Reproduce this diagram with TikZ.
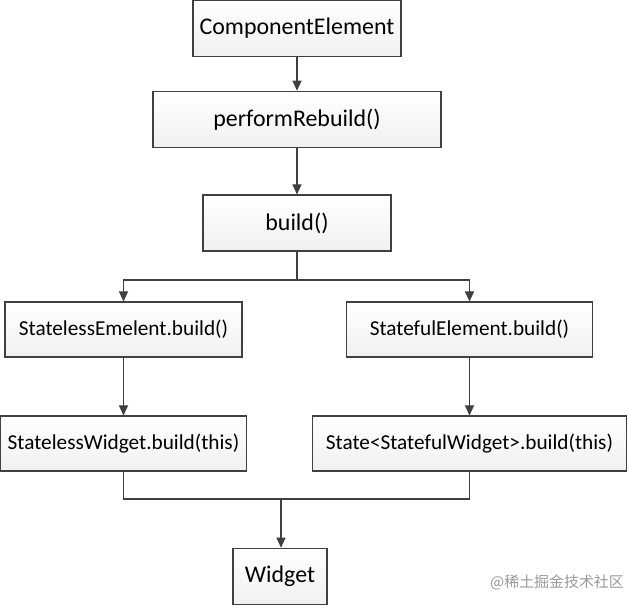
\documentclass[tikz,border=0pt]{standalone}
\usepackage{fontspec}
\setmainfont{Carlito}
\newfontfamily\cjkfont{Noto Sans CJK SC}
\usetikzlibrary{
  calc,
  positioning,
  arrows.meta
}

\begin{document}
\begin{tikzpicture}[
  box/.style={draw=black!75,line width=0.6pt,top color=white,bottom color=black!6,
    minimum height=1.13cm,inner sep=0pt,font=\fontsize{13.6}{16}\selectfont},
  midbox/.style={box,minimum height=1.1cm,font=\fontsize{12.1}{14}\selectfont},
  link/.style={draw=black!75,line width=0.6pt},
  arr/.style={link,-{Triangle[length=0.2cm,width=0.18cm]}}
]
  \useasboundingbox (-5.94, 0) rectangle (6.64, -12.16);

  \node[box,minimum width=4.16cm] at (0, -0.57) (Component) {ComponentElement};
  \node[box,minimum width=5.76cm] at (0, -2.39) (Rebuild) {performRebuild()};
  \node[box,minimum width=3.76cm,minimum height=1.12cm] at (0, -4.46) (Build) {build()};
  \node[midbox,minimum width=4.74cm] at (-3.47, -6.59) (StatelessElem) {StatelessEmelent.build()};
  \node[midbox,minimum width=4.92cm] at (3.45, -6.59) (StatefulElem) {StatefulElement.build()};
  \node[midbox,minimum width=4.92cm] at (-3.47, -8.87) (StatelessWgt) {StatelessWidget.build(this)};
  \node[midbox,minimum width=6.28cm] at (3.45, -8.87) (StateBuild) {State<StatefulWidget>.build(this)};
  \node[box,minimum width=1.88cm] at (-0.34, -11.53) (Widget) {Widget};

  \coordinate (Split) at (0, -5.60);
  \coordinate (Merge) at (-0.32, -9.98);

  \draw[arr] (Component.south) -- (Rebuild.north);
  \draw[arr] (Rebuild.south) -- (Build.north);
  \draw[link] (Build.south) -- (Split);
  \draw[arr] (Split) -| (StatelessElem.north);
  \draw[arr] (Split) -| (StatefulElem.north);
  \draw[arr] (StatelessElem.south) -- (StatelessWgt.north);
  \draw[arr] (StatefulElem.south) -- (StateBuild.north);
  \draw[link] (StatelessWgt.south) |- (Merge);
  \draw[link] (StateBuild.south) |- (Merge);
  \draw[arr] (Merge) -- (Merge |- Widget.north);

  \node[black!40,font=\cjkfont\fontsize{8.5}{10}\selectfont] at (5.2, -11.64) (Mark) {@稀土掘金技术社区};
\end{tikzpicture}
\end{document}
